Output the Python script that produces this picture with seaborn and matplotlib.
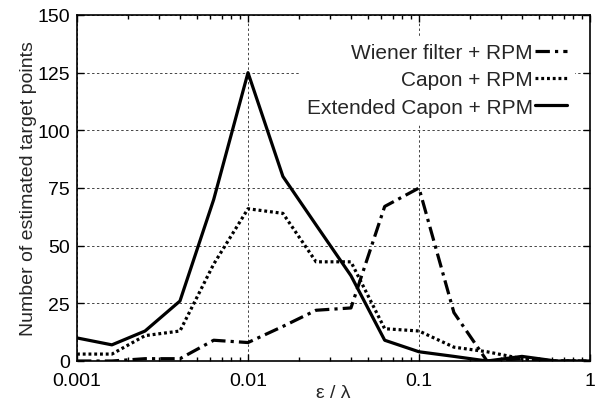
import numpy as np
import pandas as pd
import matplotlib
matplotlib.use("Agg")
import matplotlib.pyplot as plt
import seaborn as sns
from matplotlib.ticker import LogLocator, FixedLocator, FixedFormatter

# ---- data ----
eps_over_lambda = [0.001, 0.0016, 0.0025, 0.004, 0.0063, 0.01, 0.016, 0.025,
                   0.04, 0.063, 0.1, 0.16, 0.25, 0.4, 0.63, 1.0]
wiener = [0, 0, 1, 1, 9, 8, 15, 22, 23, 67, 75, 21, 0, 1, 0, 0]
capon = [3, 3, 11, 13, 42, 66, 64, 43, 43, 14, 13, 6, 4, 1, 0, 0]
ext_capon = [10, 7, 13, 26, 70, 125, 80, 59, 37, 9, 4, 2, 0, 2, 0, 0]

series_labels = ["Wiener filter + RPM", "Capon + RPM", "Extended Capon + RPM"]
x_tick_vals = [0.001, 0.01, 0.1, 1]
x_tick_labels = ["0.001", "0.01", "0.1", "1"]
y_tick_vals = [0, 25, 50, 75, 100, 125, 150]

sns.set_style("ticks")
plt.rcParams['font.family'] = ['Liberation Sans', 'DejaVu Sans']

fig = plt.figure(figsize=(6.03, 4.06), dpi=100)
ax = fig.add_axes([77/603, 1 - 362/406, (590 - 77)/603, (362 - 16)/406])

df = pd.DataFrame({"x": eps_over_lambda, "w": wiener, "c": capon, "e": ext_capon})

sns.lineplot(data=df, x="x", y="w", ax=ax, color="black", linewidth=2.3,
             label=series_labels[0], zorder=3)
ax.lines[-1].set_dashes([4.5, 1.6, 1.0, 1.6])
sns.lineplot(data=df, x="x", y="c", ax=ax, color="black", linewidth=2.3,
             label=series_labels[1], zorder=3)
ax.lines[-1].set_dashes([0.9, 0.9])
sns.lineplot(data=df, x="x", y="e", ax=ax, color="black", linewidth=2.3,
             label=series_labels[2], zorder=3)

ax.set_xscale("log")
ax.set_xlim(0.001, 1)
ax.set_ylim(0, 150)
ax.xaxis.set_major_locator(FixedLocator(x_tick_vals))
ax.xaxis.set_major_formatter(FixedFormatter(x_tick_labels))
ax.xaxis.set_minor_locator(LogLocator(base=10, subs=np.arange(2, 10)))
ax.set_yticks(y_tick_vals)

ax.grid(True, which="major", linestyle=(0, (2.5, 2.5)), color="#444444", linewidth=0.7)
for sp in ax.spines.values():
    sp.set_linewidth(1.2)
    sp.set_color("black")
ax.tick_params(which="both", direction="in", top=True, right=True, colors="black",
               labelsize=14, width=1.0)
ax.tick_params(which="major", length=5)
ax.tick_params(axis="x", which="major", pad=8)
ax.tick_params(axis="y", which="major", pad=5)
ax.tick_params(which="minor", length=3)

ax.set_xlabel("ε / λ", fontsize=14, labelpad=-4)
ax.set_ylabel("Number of estimated target points", fontsize=14, labelpad=0)

leg = ax.legend(loc="upper right", markerfirst=False, frameon=True, fancybox=False,
                edgecolor="none", facecolor="white", framealpha=1, fontsize=15,
                handlelength=1.55, handletextpad=0.1, labelspacing=0.4,
                borderpad=0.35, borderaxespad=0.0, bbox_to_anchor=(0.97, 0.94))
leg.set_zorder(5)

fig.savefig("out.png", dpi=100)
